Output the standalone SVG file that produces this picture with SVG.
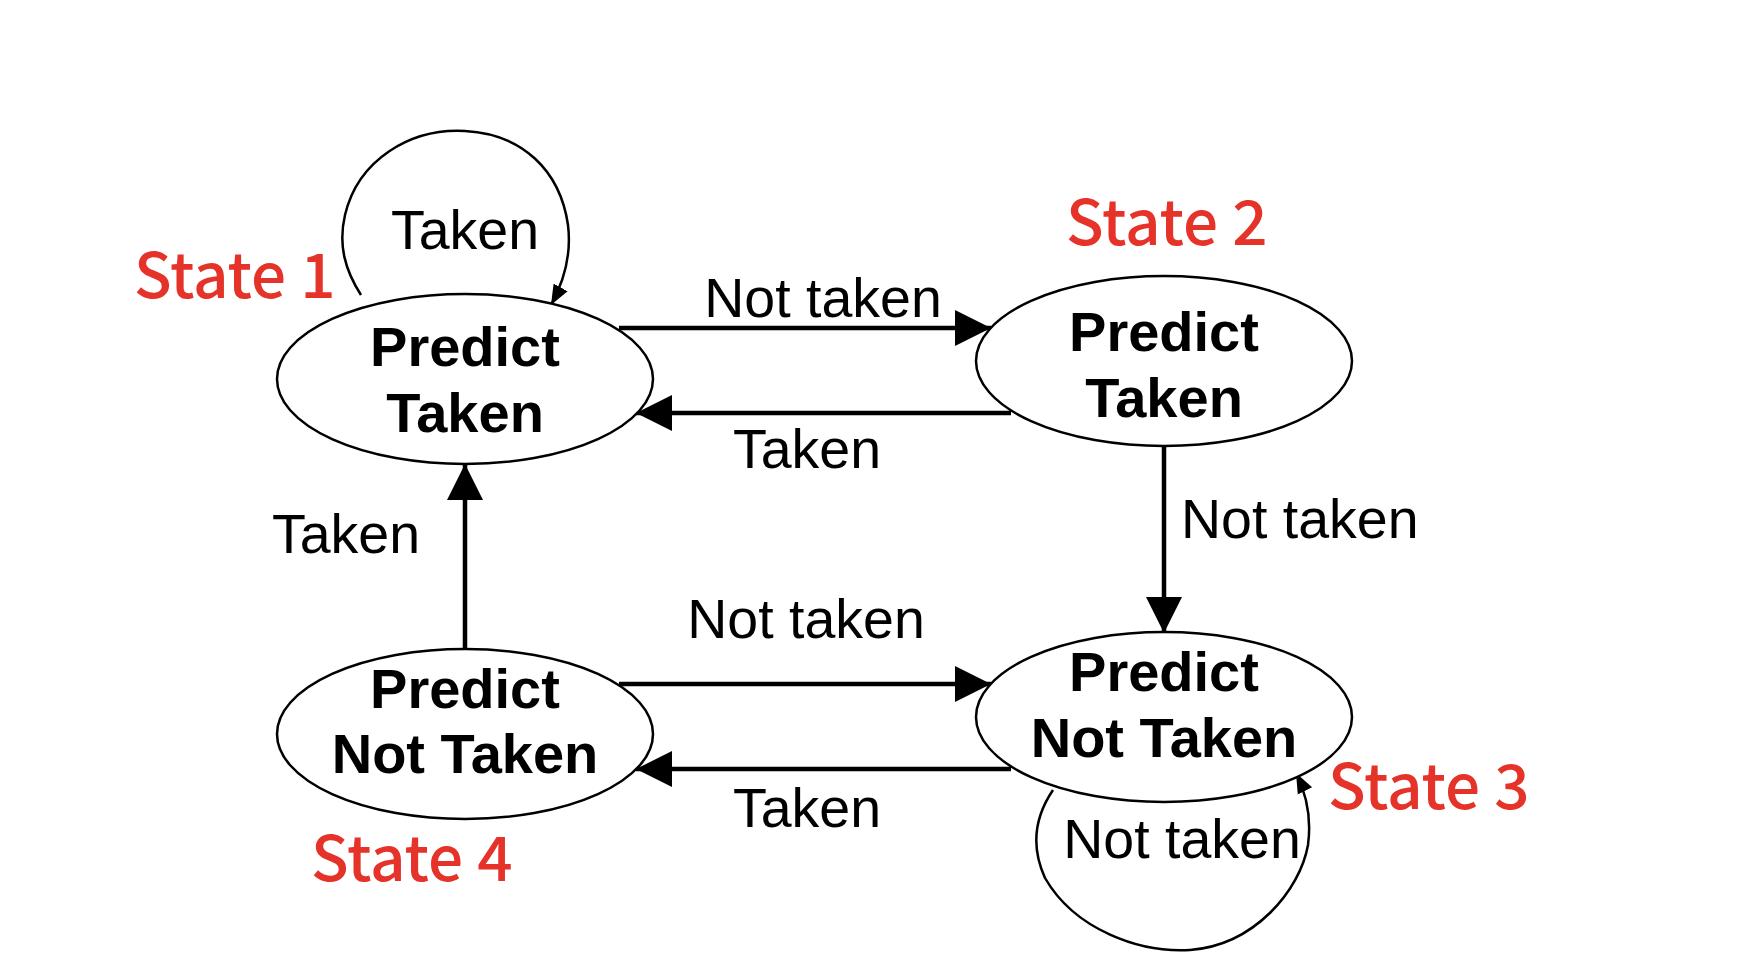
<svg xmlns="http://www.w3.org/2000/svg" width="1756" height="980" viewBox="0 0 1756 980">
<defs>
<marker id="big" viewBox="0 0 36 36" refX="36" refY="18" markerWidth="36" markerHeight="36" markerUnits="userSpaceOnUse" orient="auto">
<path d="M0,0 L36,18 L0,36 Z" fill="#000"/>
</marker>
<marker id="small" viewBox="0 0 20 20" refX="20" refY="10" markerWidth="20" markerHeight="20" markerUnits="userSpaceOnUse" orient="auto">
<path d="M0,2 L20,10 L0,18 Z" fill="#000"/>
</marker>
</defs>
<style>
.node ellipse{fill:#fff;stroke:#000;stroke-width:2.5}
.node text{font-family:"Liberation Sans",Arial,sans-serif;font-weight:bold;font-size:56px;fill:#000;text-anchor:middle}
.edge{stroke:#000;stroke-width:4.5;fill:none}
.loop{stroke:#000;stroke-width:2.5;fill:none}
.lbl{font-family:"Liberation Sans",Arial,sans-serif;font-size:55.5px;fill:#000}
.st{font-family:"Noto Sans CJK SC","Noto Sans",sans-serif;font-weight:500;font-size:62px;fill:#e5332a}
</style>
<rect width="1756" height="980" fill="#fff"/>
<g id="connectors">
<line class="edge" x1="619" y1="328" x2="991" y2="328" marker-end="url(#big)"/>
<line class="edge" x1="1011" y1="413" x2="636" y2="413" marker-end="url(#big)"/>
<line class="edge" x1="1164" y1="446" x2="1164" y2="633" marker-end="url(#big)"/>
<line class="edge" x1="465" y1="650" x2="465" y2="464" marker-end="url(#big)"/>
<line class="edge" x1="619" y1="684" x2="991" y2="684" marker-end="url(#big)"/>
<line class="edge" x1="1011" y1="769" x2="636" y2="769" marker-end="url(#big)"/>
<path class="loop" d="M361,295 C345,270 338,245 345,215 C358,160 410,128 465,131 C522,134 560,170 568,225 C572,258 562,285 551,305" marker-end="url(#small)"/>
<path class="loop" d="M1053,790 C1036,815 1030,845 1045,878 C1075,930 1140,953 1190,950 C1255,945 1300,890 1308,845 C1312,815 1306,793 1296,773" marker-end="url(#small)"/>
<text class="lbl" x="823" y="317" text-anchor="middle">Not taken</text>
<text class="lbl" x="807" y="468" text-anchor="middle">Taken</text>
<text class="lbl" x="1181" y="538">Not taken</text>
<text class="lbl" x="346" y="553" text-anchor="middle">Taken</text>
<text class="lbl" x="806" y="638" text-anchor="middle">Not taken</text>
<text class="lbl" x="807" y="827" text-anchor="middle">Taken</text>
<text class="lbl" x="465" y="249" text-anchor="middle">Taken</text>
<text class="lbl" x="1182" y="858" text-anchor="middle">Not taken</text>
</g>
<g id="state1" class="node">
<ellipse cx="465" cy="379" rx="188" ry="85"/>
<text x="465" y="366">Predict</text>
<text x="465" y="432">Taken</text>
</g>
<g id="state2" class="node">
<ellipse cx="1164" cy="361" rx="188" ry="85"/>
<text x="1164" y="351">Predict</text>
<text x="1164" y="417">Taken</text>
</g>
<g id="state3" class="node">
<ellipse cx="1164" cy="717" rx="188" ry="85"/>
<text x="1164" y="691">Predict</text>
<text x="1164" y="757">Not Taken</text>
</g>
<g id="state4" class="node">
<ellipse cx="465" cy="734" rx="188" ry="85"/>
<text x="465" y="708">Predict</text>
<text x="465" y="773">Not Taken</text>
</g>
<g id="state-labels">
<text class="st" x="134" y="298">State 1</text>
<text class="st" x="1066" y="245">State 2</text>
<text class="st" x="1328" y="809">State 3</text>
<text class="st" x="311" y="881">State 4</text>
</g>
</svg>
